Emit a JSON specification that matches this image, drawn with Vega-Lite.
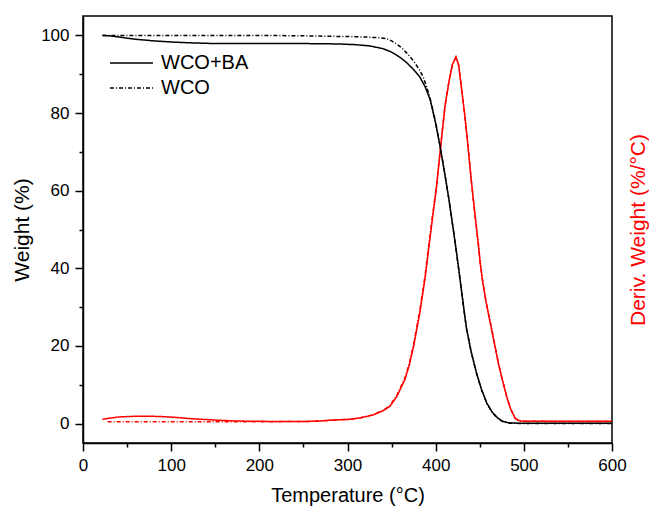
{
  "$schema": "https://vega.github.io/schema/vega-lite/v6.json",
  "width": 529,
  "height": 427,
  "autosize": "none",
  "padding": {"left": 83, "top": 16, "right": 37, "bottom": 66},
  "background": "white",
  "config": {
    "font": "Liberation Sans",
    "view": {"stroke": "black", "strokeWidth": 1.5},
    "axis": {
      "grid": false,
      "domainColor": "black",
      "domainWidth": 1.5,
      "tickColor": "black",
      "tickWidth": 1.5,
      "labelColor": "black",
      "labelFontSize": 17,
      "labelFont": "Liberation Sans",
      "labelPadding": 6,
      "labelFlush": false,
      "titleFont": "Liberation Sans",
      "titleFontSize": 21,
      "titleFontWeight": "normal",
      "titleColor": "black"
    },
    "legend": {
      "orient": "none",
      "legendX": 38.5,
      "legendY": 37,
      "padding": 0,
      "labelFontSize": 20,
      "labelFont": "Liberation Sans",
      "labelColor": "black",
      "labelOffset": 19.5,
      "rowPadding": 5,
      "symbolType": "M-3,0H3",
      "symbolSize": 205.4,
      "symbolStrokeWidth": 1.5,
      "symbolStrokeColor": "black"
    }
  },
  "datasets": {
    "tg": [
      {"sample": "WCO+BA", "T": 22, "weight": 100},
      {"sample": "WCO+BA", "T": 30, "weight": 99.9},
      {"sample": "WCO+BA", "T": 40, "weight": 99.6},
      {"sample": "WCO+BA", "T": 50, "weight": 99.3},
      {"sample": "WCO+BA", "T": 60, "weight": 99.0},
      {"sample": "WCO+BA", "T": 70, "weight": 98.8},
      {"sample": "WCO+BA", "T": 80, "weight": 98.6},
      {"sample": "WCO+BA", "T": 100, "weight": 98.3},
      {"sample": "WCO+BA", "T": 120, "weight": 98.1},
      {"sample": "WCO+BA", "T": 150, "weight": 97.9},
      {"sample": "WCO+BA", "T": 200, "weight": 97.9},
      {"sample": "WCO+BA", "T": 250, "weight": 97.9},
      {"sample": "WCO+BA", "T": 290, "weight": 97.8},
      {"sample": "WCO+BA", "T": 310, "weight": 97.6},
      {"sample": "WCO+BA", "T": 325, "weight": 97.3},
      {"sample": "WCO+BA", "T": 340, "weight": 96.6},
      {"sample": "WCO+BA", "T": 350, "weight": 95.7},
      {"sample": "WCO+BA", "T": 360, "weight": 94.3},
      {"sample": "WCO+BA", "T": 367, "weight": 93},
      {"sample": "WCO+BA", "T": 375, "weight": 91.2},
      {"sample": "WCO+BA", "T": 382, "weight": 89.3},
      {"sample": "WCO+BA", "T": 388, "weight": 86.8},
      {"sample": "WCO+BA", "T": 394, "weight": 83.3},
      {"sample": "WCO+BA", "T": 400, "weight": 77.3},
      {"sample": "WCO+BA", "T": 405, "weight": 71.4},
      {"sample": "WCO+BA", "T": 410, "weight": 64.8},
      {"sample": "WCO+BA", "T": 415, "weight": 57.8},
      {"sample": "WCO+BA", "T": 420, "weight": 50},
      {"sample": "WCO+BA", "T": 424, "weight": 43.5},
      {"sample": "WCO+BA", "T": 428, "weight": 36.6},
      {"sample": "WCO+BA", "T": 432, "weight": 29.5},
      {"sample": "WCO+BA", "T": 435, "weight": 24.5},
      {"sample": "WCO+BA", "T": 440, "weight": 18.8},
      {"sample": "WCO+BA", "T": 446, "weight": 13.3},
      {"sample": "WCO+BA", "T": 452, "weight": 8.8},
      {"sample": "WCO+BA", "T": 458, "weight": 5.3},
      {"sample": "WCO+BA", "T": 464, "weight": 3},
      {"sample": "WCO+BA", "T": 470, "weight": 1.5},
      {"sample": "WCO+BA", "T": 476, "weight": 0.6},
      {"sample": "WCO+BA", "T": 484, "weight": 0.15},
      {"sample": "WCO+BA", "T": 495, "weight": 0.1},
      {"sample": "WCO+BA", "T": 550, "weight": 0.1},
      {"sample": "WCO+BA", "T": 600, "weight": 0.1},
      {"sample": "WCO", "T": 22, "weight": 100},
      {"sample": "WCO", "T": 50, "weight": 100},
      {"sample": "WCO", "T": 100, "weight": 100},
      {"sample": "WCO", "T": 150, "weight": 100},
      {"sample": "WCO", "T": 200, "weight": 100},
      {"sample": "WCO", "T": 250, "weight": 99.9},
      {"sample": "WCO", "T": 300, "weight": 99.7},
      {"sample": "WCO", "T": 320, "weight": 99.6},
      {"sample": "WCO", "T": 335, "weight": 99.4},
      {"sample": "WCO", "T": 344, "weight": 99.2},
      {"sample": "WCO", "T": 350, "weight": 98.6},
      {"sample": "WCO", "T": 355, "weight": 97.9},
      {"sample": "WCO", "T": 361, "weight": 96.9},
      {"sample": "WCO", "T": 367, "weight": 95.5},
      {"sample": "WCO", "T": 375, "weight": 93.4},
      {"sample": "WCO", "T": 382, "weight": 91},
      {"sample": "WCO", "T": 386, "weight": 89.2},
      {"sample": "WCO", "T": 390, "weight": 86.6},
      {"sample": "WCO", "T": 394, "weight": 83.5},
      {"sample": "WCO", "T": 400, "weight": 77.6},
      {"sample": "WCO", "T": 405, "weight": 71.5},
      {"sample": "WCO", "T": 410, "weight": 64.9},
      {"sample": "WCO", "T": 415, "weight": 57.8},
      {"sample": "WCO", "T": 420, "weight": 50},
      {"sample": "WCO", "T": 424, "weight": 43.4},
      {"sample": "WCO", "T": 428, "weight": 36.5},
      {"sample": "WCO", "T": 432, "weight": 29.4},
      {"sample": "WCO", "T": 435, "weight": 24.4},
      {"sample": "WCO", "T": 440, "weight": 18.7},
      {"sample": "WCO", "T": 446, "weight": 13.2},
      {"sample": "WCO", "T": 452, "weight": 8.7},
      {"sample": "WCO", "T": 458, "weight": 5.2},
      {"sample": "WCO", "T": 464, "weight": 2.9},
      {"sample": "WCO", "T": 470, "weight": 1.4},
      {"sample": "WCO", "T": 476, "weight": 0.5},
      {"sample": "WCO", "T": 484, "weight": 0.1},
      {"sample": "WCO", "T": 495, "weight": 0.05},
      {"sample": "WCO", "T": 550, "weight": 0.05},
      {"sample": "WCO", "T": 600, "weight": 0.05}
    ],
    "dtg": [
      {"sample": "WCO+BA", "T": 22, "deriv": 1.1},
      {"sample": "WCO+BA", "T": 30, "deriv": 1.4},
      {"sample": "WCO+BA", "T": 40, "deriv": 1.7},
      {"sample": "WCO+BA", "T": 50, "deriv": 1.8},
      {"sample": "WCO+BA", "T": 60, "deriv": 1.9},
      {"sample": "WCO+BA", "T": 75, "deriv": 1.9},
      {"sample": "WCO+BA", "T": 90, "deriv": 1.8},
      {"sample": "WCO+BA", "T": 105, "deriv": 1.6},
      {"sample": "WCO+BA", "T": 120, "deriv": 1.3},
      {"sample": "WCO+BA", "T": 135, "deriv": 1.1},
      {"sample": "WCO+BA", "T": 150, "deriv": 0.9},
      {"sample": "WCO+BA", "T": 170, "deriv": 0.7},
      {"sample": "WCO+BA", "T": 190, "deriv": 0.6},
      {"sample": "WCO+BA", "T": 220, "deriv": 0.55},
      {"sample": "WCO+BA", "T": 255, "deriv": 0.55},
      {"sample": "WCO+BA", "T": 270, "deriv": 0.7},
      {"sample": "WCO+BA", "T": 291, "deriv": 1.0},
      {"sample": "WCO+BA", "T": 303, "deriv": 1.1},
      {"sample": "WCO+BA", "T": 315, "deriv": 1.5},
      {"sample": "WCO+BA", "T": 329, "deriv": 2.2},
      {"sample": "WCO+BA", "T": 340, "deriv": 3.3},
      {"sample": "WCO+BA", "T": 348, "deriv": 4.4},
      {"sample": "WCO+BA", "T": 356, "deriv": 7},
      {"sample": "WCO+BA", "T": 365, "deriv": 11.3},
      {"sample": "WCO+BA", "T": 370, "deriv": 15},
      {"sample": "WCO+BA", "T": 375, "deriv": 19.9},
      {"sample": "WCO+BA", "T": 382, "deriv": 28.5},
      {"sample": "WCO+BA", "T": 388, "deriv": 37.5},
      {"sample": "WCO+BA", "T": 394.5, "deriv": 49.5},
      {"sample": "WCO+BA", "T": 401, "deriv": 61},
      {"sample": "WCO+BA", "T": 406, "deriv": 72},
      {"sample": "WCO+BA", "T": 410.6, "deriv": 81.8},
      {"sample": "WCO+BA", "T": 415, "deriv": 88},
      {"sample": "WCO+BA", "T": 419, "deriv": 92.5},
      {"sample": "WCO+BA", "T": 423, "deriv": 94.5},
      {"sample": "WCO+BA", "T": 426, "deriv": 92.5},
      {"sample": "WCO+BA", "T": 429.5, "deriv": 86.1},
      {"sample": "WCO+BA", "T": 433, "deriv": 79.5},
      {"sample": "WCO+BA", "T": 436, "deriv": 73},
      {"sample": "WCO+BA", "T": 440, "deriv": 63.5},
      {"sample": "WCO+BA", "T": 444, "deriv": 55},
      {"sample": "WCO+BA", "T": 446.5, "deriv": 50},
      {"sample": "WCO+BA", "T": 448.5, "deriv": 46},
      {"sample": "WCO+BA", "T": 450.5, "deriv": 41.4},
      {"sample": "WCO+BA", "T": 453, "deriv": 37},
      {"sample": "WCO+BA", "T": 456, "deriv": 32.8},
      {"sample": "WCO+BA", "T": 460, "deriv": 28},
      {"sample": "WCO+BA", "T": 463.5, "deriv": 24.2},
      {"sample": "WCO+BA", "T": 467, "deriv": 20.2},
      {"sample": "WCO+BA", "T": 471, "deriv": 15.6},
      {"sample": "WCO+BA", "T": 475, "deriv": 11.8},
      {"sample": "WCO+BA", "T": 480.5, "deriv": 7},
      {"sample": "WCO+BA", "T": 485, "deriv": 3.8},
      {"sample": "WCO+BA", "T": 490, "deriv": 1.4},
      {"sample": "WCO+BA", "T": 494, "deriv": 0.8},
      {"sample": "WCO+BA", "T": 499, "deriv": 0.6},
      {"sample": "WCO+BA", "T": 550, "deriv": 0.6},
      {"sample": "WCO+BA", "T": 600, "deriv": 0.6},
      {"sample": "WCO", "T": 28, "deriv": 0.5},
      {"sample": "WCO", "T": 60, "deriv": 0.5},
      {"sample": "WCO", "T": 100, "deriv": 0.5},
      {"sample": "WCO", "T": 150, "deriv": 0.5},
      {"sample": "WCO", "T": 180, "deriv": 0.5},
      {"sample": "WCO", "T": 220, "deriv": 0.5},
      {"sample": "WCO", "T": 255, "deriv": 0.55},
      {"sample": "WCO", "T": 270, "deriv": 0.7},
      {"sample": "WCO", "T": 291, "deriv": 1.0},
      {"sample": "WCO", "T": 303, "deriv": 1.1},
      {"sample": "WCO", "T": 315, "deriv": 1.5},
      {"sample": "WCO", "T": 329, "deriv": 2.3},
      {"sample": "WCO", "T": 340, "deriv": 3.4},
      {"sample": "WCO", "T": 348, "deriv": 4.6},
      {"sample": "WCO", "T": 356, "deriv": 7.3},
      {"sample": "WCO", "T": 365, "deriv": 11.7},
      {"sample": "WCO", "T": 370, "deriv": 15.5},
      {"sample": "WCO", "T": 375, "deriv": 20.5},
      {"sample": "WCO", "T": 382, "deriv": 29.2},
      {"sample": "WCO", "T": 388, "deriv": 38.2},
      {"sample": "WCO", "T": 394.5, "deriv": 50.2},
      {"sample": "WCO", "T": 401, "deriv": 61.5},
      {"sample": "WCO", "T": 406, "deriv": 72.3},
      {"sample": "WCO", "T": 410.6, "deriv": 81.8},
      {"sample": "WCO", "T": 415, "deriv": 88},
      {"sample": "WCO", "T": 419, "deriv": 92.4},
      {"sample": "WCO", "T": 423, "deriv": 94.3},
      {"sample": "WCO", "T": 426, "deriv": 92.4},
      {"sample": "WCO", "T": 429.5, "deriv": 86},
      {"sample": "WCO", "T": 433, "deriv": 79.4},
      {"sample": "WCO", "T": 436, "deriv": 73},
      {"sample": "WCO", "T": 440, "deriv": 63.5},
      {"sample": "WCO", "T": 444, "deriv": 55},
      {"sample": "WCO", "T": 446.5, "deriv": 50},
      {"sample": "WCO", "T": 448.5, "deriv": 46},
      {"sample": "WCO", "T": 450.5, "deriv": 41.6},
      {"sample": "WCO", "T": 453, "deriv": 37.3},
      {"sample": "WCO", "T": 456, "deriv": 33},
      {"sample": "WCO", "T": 460, "deriv": 28.3},
      {"sample": "WCO", "T": 463.5, "deriv": 24.5},
      {"sample": "WCO", "T": 467, "deriv": 20.4},
      {"sample": "WCO", "T": 471, "deriv": 15.8},
      {"sample": "WCO", "T": 475, "deriv": 11.9},
      {"sample": "WCO", "T": 480.5, "deriv": 7},
      {"sample": "WCO", "T": 485, "deriv": 3.8},
      {"sample": "WCO", "T": 490, "deriv": 1.4},
      {"sample": "WCO", "T": 494, "deriv": 0.8},
      {"sample": "WCO", "T": 499, "deriv": 0.6},
      {"sample": "WCO", "T": 550, "deriv": 0.55},
      {"sample": "WCO", "T": 600, "deriv": 0.55}
    ]
  },
  "layer": [
    {
      "data": {"name": "dtg"},
      "mark": {"type": "line", "color": "#ff0000", "strokeWidth": 1.5},
      "encoding": {
        "x": {"field": "T", "type": "quantitative"},
        "y": {
          "field": "deriv",
          "type": "quantitative",
          "scale": {"domain": [-5, 105], "nice": false, "zero": false},
          "axis": {
            "orient": "right",
            "labels": false,
            "ticks": false,
            "domain": false,
            "title": "Deriv. Weight (%/°C)",
            "titleColor": "#ff0000",
            "titleAngle": 270,
            "titleBaseline": "top",
            "titlePadding": 15
          }
        },
        "strokeDash": {
          "field": "sample",
          "type": "nominal",
          "scale": {"domain": ["WCO+BA", "WCO"], "range": [[1, 0], [4, 2, 1, 2]]},
          "legend": {"title": null}
        }
      }
    },
    {
      "data": {"name": "tg"},
      "mark": {"type": "line", "color": "black", "strokeWidth": 1.5},
      "encoding": {
        "x": {
          "field": "T",
          "type": "quantitative",
          "scale": {"domain": [0, 600], "nice": false},
          "axis": {
            "title": "Temperature (°C)",
            "titleFontSize": 20,
            "values": [0, 50, 100, 150, 200, 250, 300, 350, 400, 450, 500, 550, 600],
            "labelExpr": "datum.value % 100 === 0 ? datum.label : ''",
            "tickSize": {"condition": {"test": "datum.value % 100 === 0", "value": 8}, "value": 4},
            "titlePadding": 12
          }
        },
        "y": {
          "field": "weight",
          "type": "quantitative",
          "scale": {"domain": [-5, 105], "nice": false, "zero": false},
          "axis": {
            "orient": "left",
            "title": "Weight (%)",
            "values": [0, 10, 20, 30, 40, 50, 60, 70, 80, 90, 100],
            "labelExpr": "datum.value % 20 === 0 ? datum.label : ''",
            "tickSize": {"condition": {"test": "datum.value % 20 === 0", "value": 8}, "value": 4},
            "titlePadding": 8
          }
        },
        "strokeDash": {
          "field": "sample",
          "type": "nominal",
          "scale": {"domain": ["WCO+BA", "WCO"], "range": [[1, 0], [4, 2, 1, 2]]},
          "legend": {"title": null}
        }
      }
    }
  ],
  "resolve": {"scale": {"y": "independent"}}
}
